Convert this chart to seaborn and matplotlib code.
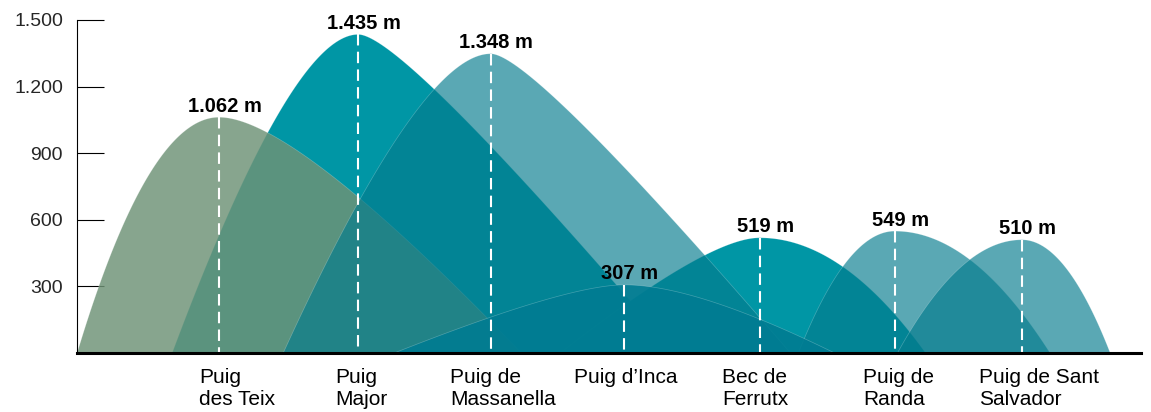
import numpy as np
import seaborn as sns
from matplotlib import pyplot as plt
from matplotlib.colors import to_rgba

# peaks of Mallorca, left to right
peaks = ["Puig\ndes Teix", "Puig\nMajor", "Puig de\nMassanella", "Puig d\u2019Inca",
         "Bec de\nFerrutx", "Puig de\nRanda", "Puig de Sant\nSalvador"]
heights = [1062, 1435, 1348, 307, 519, 549, 510]
peak_pos = [0, 1.04, 2.03, 3.03, 4.04, 5.05, 6.0]
# where each mountain meets the ground (in category units)
base_left = [-1.06, -0.35, 0.48, 1.31, 2.55, 4.33, 5.07]
base_right = [2.26, 3.41, 4.27, 4.60, 5.28, 6.21, 6.66]
y_ticks = [300, 600, 900, 1200, 1500]

# styling per mountain
colors = ['#6F9377', '#0096A5', '#047B8D', '#007C92', '#0096A5', '#047B8D', '#047B8D']
alphas = [0.83, 1.0, 0.66, 0.9, 1.0, 0.66, 0.66]
zorders = [1.1, 1.0, 1.2, 1.5, 1.0, 1.2, 1.3]
curv_left = [0.5, 0.36, 0.34, 0.25, 0.26, 0.5, 0.5]
curv_right = [0.25, 0.14, 0.14, 0.34, 0.5, 0.5, 0.5]
# small horizontal nudges of the name labels (points)
name_dx = [13, 2, 9, 1, -3, 3, 12]


def bezier(p0, p1, p2, n=120):
    t = np.linspace(0, 1, n)[:, None]
    pts = (1 - t) ** 2 * np.array(p0) + 2 * t * (1 - t) * np.array(p1) + t ** 2 * np.array(p2)
    return pts[:, 0], pts[:, 1]


def mountain(x0, h, left, right, cl, cr):
    wl = x0 - left
    wr = right - x0
    xl, yl = bezier((left, 0), (x0 - cl * wl, h), (x0, h))
    xr, yr = bezier((x0, h), (x0 + cr * wr, h), (right, 0))
    return np.concatenate([xl, xr]), np.concatenate([yl, yr])


sns.set_style("white")
plt.rcParams['font.family'] = ['Liberation Sans', 'DejaVu Sans']

fig = plt.figure(figsize=(11.51, 4.12), dpi=100)
ax = fig.add_axes([77 / 1151, 59 / 412, (1141 - 77) / 1151, 333 / 412])

for i in range(len(peaks)):
    xs, ys = mountain(peak_pos[i], heights[i], base_left[i], base_right[i], curv_left[i], curv_right[i])
    ax.fill(xs, ys, facecolor=to_rgba(colors[i], alphas[i]), edgecolor=(1, 1, 1, 0.25),
            linewidth=0.5, zorder=zorders[i])

for i in range(len(peaks)):
    ax.plot([peak_pos[i], peak_pos[i]], [heights[i], 0], color='white', lw=1.5,
            linestyle=(0, (5.5, 3)), zorder=3)
    ax.annotate(f"{heights[i]:,} m".replace(",", "."), (peak_pos[i], heights[i]),
                xytext=(4, 4), textcoords='offset points', ha='center', va='baseline',
                fontsize=14.5, fontweight='bold', color='black', zorder=4)
    ax.annotate(peaks[i], (peak_pos[i], 0), xytext=(name_dx[i], -11),
                textcoords='offset points', ha='center', va='top', multialignment='left',
                fontsize=15, linespacing=1.2, color='black', annotation_clip=False)

ax.set_xlim(-1.061, 6.89)
ax.set_ylim(0, 1500)
ax.set_yticks(y_ticks)
ax.set_yticklabels([f"{v:,}".replace(",", ".") for v in y_ticks])
ax.set_xticks([])

sns.despine(ax=ax)
ax.spines['left'].set_linewidth(0.8)
ax.spines['left'].set_color('black')
ax.spines['bottom'].set_linewidth(2.2)
ax.spines['bottom'].set_color('black')
ax.spines['bottom'].set_zorder(5)
ax.tick_params(axis='y', direction='in', length=19.5, width=0.8, color='black',
               labelsize=14, pad=10, left=True)
ax.grid(False)

fig.savefig("out.png", dpi=100)
